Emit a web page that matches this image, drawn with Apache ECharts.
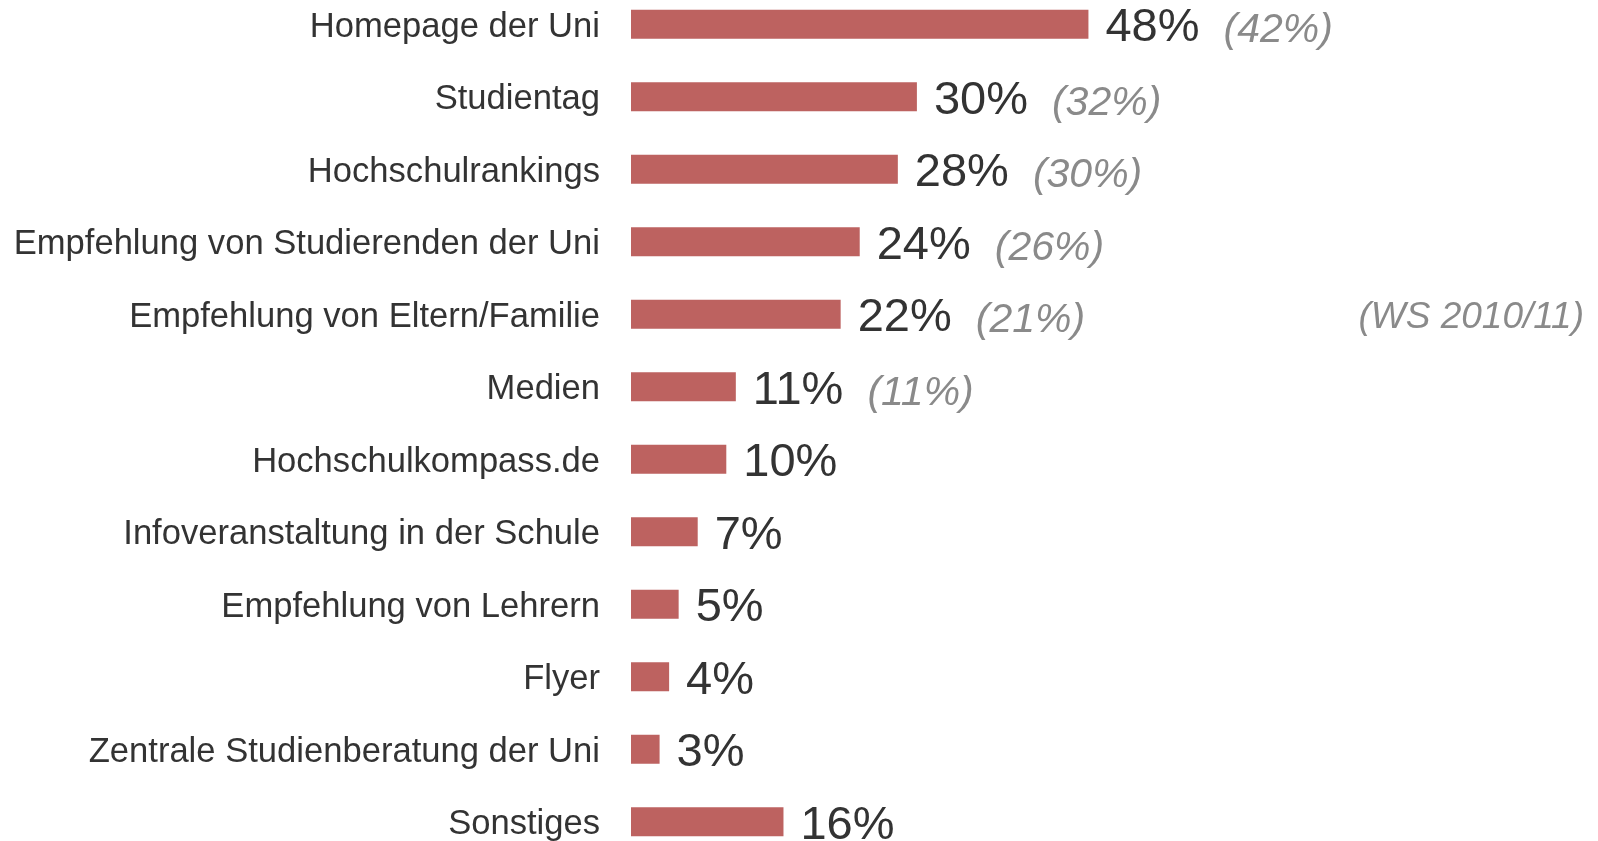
<!DOCTYPE html>
<html>
<head>
<meta charset="utf-8">
<script src="https://cdn.jsdelivr.net/npm/echarts@6/dist/echarts.min.js"></script>
<style>
  html, body { margin: 0; padding: 0; background: #fff; }
  #chart { width: 1598px; height: 841px; }
</style>
</head>
<body>
<div id="chart"></div>
<script>
// Informationsquellen, aktueller Wert und Vorjahr (WS 2010/11)
const categories = [
  "Homepage der Uni",
  "Studientag",
  "Hochschulrankings",
  "Empfehlung von Studierenden der Uni",
  "Empfehlung von Eltern/Familie",
  "Medien",
  "Hochschulkompass.de",
  "Infoveranstaltung in der Schule",
  "Empfehlung von Lehrern",
  "Flyer",
  "Zentrale Studienberatung der Uni",
  "Sonstiges",
];
const values = [48, 30, 28, 24, 22, 11, 10, 7, 5, 4, 3, 16];
const previous = [42, 32, 30, 26, 21, 11, null, null, null, null, null, null];
const previousLabel = "(WS 2010/11)";

var myChart = echarts.init(document.getElementById("chart"));

let option = {
  animation: false,
  textStyle: {
    fontFamily: "Liberation Sans, Arial, sans-serif",
  },
  grid: {
    left: 631,
    top: -12,
    width: 953,
    height: 870,
    containLabel: false,
    outerBoundsMode: "none",
  },
  xAxis: {
    type: "value",
    min: 0,
    max: 100,
    show: false,
  },
  yAxis: {
    type: "category",
    inverse: true,
    data: categories,
    axisLine: { show: false },
    axisTick: { show: false },
    splitLine: { show: false },
    axisLabel: {
      margin: 31,
      formatter: (v) => "{c|" + v + "}",
      rich: {
        c: {
          fontSize: 34.6,
          color: "#333333",
          padding: [6, 0, 0, 0],
        },
      },
    },
  },
  series: [
    {
      type: "bar",
      data: values,
      barWidth: 29,
      itemStyle: { color: "#bd6260" },
      label: {
        show: true,
        position: "right",
        distance: 17,
        offset: [0, 4],
        formatter: (p) => {
          const prev = previous[p.dataIndex];
          let s = "{v|" + p.value + "%}";
          if (prev != null) s += "{p|(" + prev + "%)}";
          return s;
        },
        rich: {
          v: {
            fontSize: 47,
            color: "#333333",
          },
          p: {
            fontSize: 41,
            fontStyle: "italic",
            color: "#8a8a8a",
            padding: [5, 0, 0, 24],
          },
        },
      },
    },
  ],
  graphic: [
    {
      type: "text",
      right: 14,
      top: 299,
      style: {
        text: previousLabel,
        fontSize: 37,
        fontStyle: "italic",
        fill: "#8a8a8a",
        fontFamily: "Liberation Sans, Arial, sans-serif",
      },
    },
  ],
};
myChart.setOption(option);
</script>
</body>
</html>
